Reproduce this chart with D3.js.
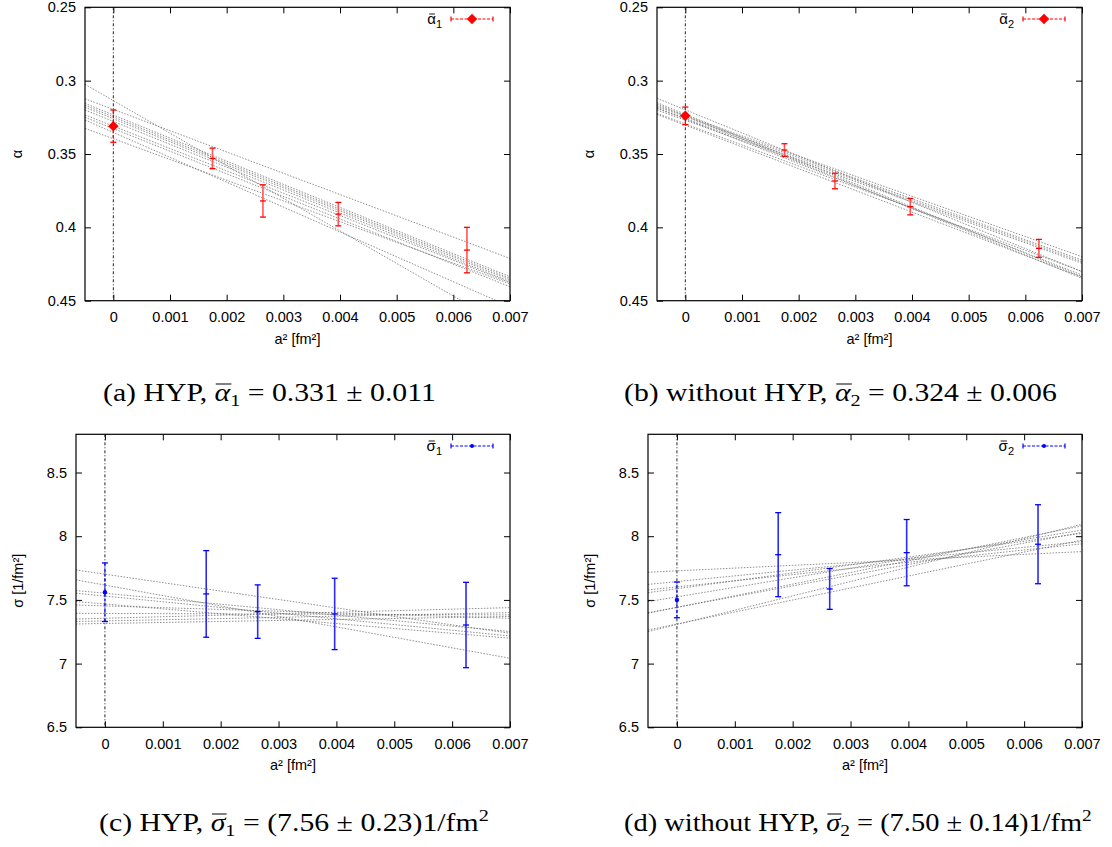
<!DOCTYPE html>
<html>
<head>
<meta charset="utf-8">
<script src="https://cdn.jsdelivr.net/npm/d3@7"></script>
<style>
  body { margin: 0; background: #fff; }
  svg text { font-family: "Liberation Sans", Arial, sans-serif; }
</style>
</head>
<body>
<svg id="fig" width="1112" height="847"></svg>
<script>
// lattice spacings a^2 [fm^2]
const a2 = [0.00175, 0.00264, 0.00397, 0.00624];
const xTicks = [0, 0.001, 0.002, 0.003, 0.004, 0.005, 0.006, 0.007];
const alphaTicks = [0.25, 0.3, 0.35, 0.4, 0.45];
const sigmaTicks = [6.5, 7, 7.5, 8, 8.5];

// alpha, HYP
const alphaHyp = [0.353, 0.382, 0.391, 0.4155];
const alphaHypErr = [0.007, 0.011, 0.008, 0.0155];
const alphaHypBar = [0.331, 0.011];
const alphaHypFitC = [0.3136, 0.3196, 0.3234, 0.3247, 0.3260, 0.3310, 0.3327, 0.3353, 0.3396, 0.3278];
const alphaHypFitM = [22.2, 14.51, 15.75, 15.73, 15.69, 15.24, 15.4, 16.96, 14.13, 15.6];

// alpha, without HYP
const alphaRaw = [0.3473, 0.3684, 0.3859, 0.4143];
const alphaRawErr = [0.0043, 0.0053, 0.0056, 0.0061];
const alphaRawBar = [0.324, 0.006];
const alphaRawFitC = [0.3199, 0.3229, 0.3239, 0.3239, 0.3247, 0.3261, 0.3259, 0.3270, 0.3295, 0.3304];
const alphaRawFitM = [15.76, 15.81, 15.84, 13.73, 13.95, 15.2, 13.93, 13.93, 14.36, 14.8];

// sigma, HYP
const sigmaHyp = [7.547, 7.408, 7.390, 7.303];
const sigmaHypErr = [0.34, 0.21, 0.28, 0.335];
const sigmaHypBar = [7.56, 0.23];
const sigmaHypFitC = [7.702, 7.616, 7.552, 7.530, 7.468, 7.453, 7.394, 7.356, 7.335, 7.315];
const sigmaHypFitM = [-66.3, -82, -42.9, -44.7, -38.4, -13.9, -1.7, 11.9, 9.3, 7.9];

// sigma, without HYP
const sigmaRaw = [7.855, 7.586, 7.871, 7.937];
const sigmaRawErr = [0.33, 0.16, 0.26, 0.31];
const sigmaRawBar = [7.50, 0.14];
const sigmaRawFitC = [7.728, 7.644, 7.602, 7.588, 7.524, 7.442, 7.441, 7.311, 7.307];
const sigmaRawFitM = [21.6, 44.8, 48.3, 62.1, 74.9, 84, 91.5, 94.1, 112.4];

const xDomain = [-0.0005, 0.007];

const svg = d3.select("#fig");
const fontFam = "Liberation Sans, Arial, sans-serif";

const panels = [
  { id: "a", left: 85, right: 510, top: 7.3, bottom: 300.7, yDomain: [0.25, 0.45], yRange: "down",
    yTicks: alphaTicks, yFmt: d3.format(".2~f"), vals: alphaHyp, errs: alphaHypErr, bar: alphaHypBar,
    fitC: alphaHypFitC, fitM: alphaHypFitM, color: "#ff0000", zero: "diamond", ylab: "α", leg: ["α", "1"],
    labX: 17 },
  { id: "b", left: 657, right: 1082, top: 7.3, bottom: 300.7, yDomain: [0.25, 0.45], yRange: "down",
    yTicks: alphaTicks, yFmt: d3.format(".2~f"), vals: alphaRaw, errs: alphaRawErr, bar: alphaRawBar,
    fitC: alphaRawFitC, fitM: alphaRawFitM, color: "#ff0000", zero: "diamond", ylab: "α", leg: ["α", "2"],
    labX: 589 },
  { id: "c", left: 76, right: 510, top: 434.3, bottom: 727.3, yDomain: [6.5, 8.8], yRange: "up",
    yTicks: sigmaTicks, yFmt: d3.format(".1~f"), vals: sigmaHyp, errs: sigmaHypErr, bar: sigmaHypBar,
    fitC: sigmaHypFitC, fitM: sigmaHypFitM, color: "#0000ff", zero: "dot", ylab: "σ [1/fm²]", leg: ["σ", "1"],
    labX: 18 },
  { id: "d", left: 648, right: 1082, top: 434.3, bottom: 727.3, yDomain: [6.5, 8.8], yRange: "up",
    yTicks: sigmaTicks, yFmt: d3.format(".1~f"), vals: sigmaRaw, errs: sigmaRawErr, bar: sigmaRawBar,
    fitC: sigmaRawFitC, fitM: sigmaRawFitM, color: "#0000ff", zero: "dot", ylab: "σ [1/fm²]", leg: ["σ", "2"],
    labX: 590 }
];

panels.forEach(p => {
  const x = d3.scaleLinear().domain(xDomain).range([p.left, p.right]);
  const y = d3.scaleLinear().domain(p.yDomain)
    .range(p.yRange === "down" ? [p.top, p.bottom] : [p.bottom, p.top]);
  const g = svg.append("g");

  g.append("clipPath").attr("id", "clip-" + p.id)
    .append("rect")
    .attr("x", p.left).attr("y", p.top)
    .attr("width", p.right - p.left).attr("height", p.bottom - p.top);

  // axes, gnuplot style: ticks pointing inwards on all four sides
  const gx = g.append("g").attr("transform", `translate(0,${p.bottom})`)
    .call(d3.axisBottom(x).tickValues(xTicks).tickFormat(d3.format(".3~f")).tickSize(-6).tickPadding(11));
  const gt = g.append("g").attr("transform", `translate(0,${p.top})`)
    .call(d3.axisTop(x).tickValues(xTicks).tickFormat("").tickSize(-6));
  const gy = g.append("g").attr("transform", `translate(${p.left},0)`)
    .call(d3.axisLeft(y).tickValues(p.yTicks).tickFormat(p.yFmt).tickSize(-6).tickPadding(9));
  const gr = g.append("g").attr("transform", `translate(${p.right},0)`)
    .call(d3.axisRight(y).tickValues(p.yTicks).tickFormat("").tickSize(-6));
  [gx, gt, gy, gr].forEach(a => {
    a.select(".domain").remove();
    a.attr("font-family", fontFam).attr("font-size", 14.5);
    a.selectAll("line").attr("stroke", "#000");
    a.selectAll("text").attr("fill", "#000");
  });

  // fit lines
  const fits = g.append("g").attr("clip-path", `url(#clip-${p.id})`);
  fits.selectAll("line.fit")
    .data(p.fitC.map((c, i) => ({ c: c, m: p.fitM[i] })))
    .join("line")
    .attr("class", "fit")
    .attr("x1", x(xDomain[0])).attr("x2", x(xDomain[1]))
    .attr("y1", d => y(d.c + d.m * xDomain[0]))
    .attr("y2", d => y(d.c + d.m * xDomain[1]))
    .attr("stroke", "#6a6a6a")
    .attr("stroke-opacity", 0.75)
    .attr("stroke-width", 1)
    .attr("stroke-dasharray", "1.5,1.5");

  // a^2 = 0 line
  g.append("line")
    .attr("x1", x(0)).attr("x2", x(0))
    .attr("y1", p.top).attr("y2", p.bottom)
    .attr("stroke", "#222")
    .attr("stroke-width", 1)
    .attr("stroke-dasharray", "3,2,1,2");

  // data with error bars
  const pts = p.vals.map((v, i) => ({ x: a2[i], v: v, e: p.errs[i] }));
  const eb = g.append("g");
  const barCol = p.color === "#ff0000" ? "#ff5555" : "#2b2bff";
  eb.selectAll("line.bar").data(pts).join("line")
    .attr("x1", d => x(d.x)).attr("x2", d => x(d.x))
    .attr("y1", d => y(d.v - d.e)).attr("y2", d => y(d.v + d.e))
    .attr("stroke", barCol).attr("stroke-width", 1.6);
  [d => d.v - d.e, d => d.v + d.e, d => d.v].forEach((f, k) => {
    eb.selectAll("line.cap" + k).data(pts).join("line")
      .attr("x1", d => x(d.x) - 3).attr("x2", d => x(d.x) + 3)
      .attr("y1", d => y(f(d))).attr("y2", d => y(f(d)))
      .attr("stroke", p.color).attr("stroke-width", 1.3);
  });

  // extrapolated value at a^2 = 0
  const z = g.append("g");
  z.append("line")
    .attr("x1", x(0)).attr("x2", x(0))
    .attr("y1", y(p.bar[0] - p.bar[1])).attr("y2", y(p.bar[0] + p.bar[1]))
    .attr("stroke", p.color).attr("stroke-width", 1.3)
    .attr("stroke-dasharray", "3,2");
  [p.bar[0] - p.bar[1], p.bar[0] + p.bar[1]].forEach(v => {
    z.append("line")
      .attr("x1", x(0) - 3).attr("x2", x(0) + 3)
      .attr("y1", y(v)).attr("y2", y(v))
      .attr("stroke", p.color).attr("stroke-width", 1.3);
  });
  if (p.zero === "diamond") {
    z.append("path")
      .attr("d", d3.symbol(d3.symbolDiamond2, 70))
      .attr("transform", `translate(${x(0)},${y(p.bar[0])})`)
      .attr("fill", p.color);
  } else {
    z.append("circle")
      .attr("cx", x(0)).attr("cy", y(p.bar[0])).attr("r", 2.2)
      .attr("fill", p.color);
  }

  // frame
  g.append("rect")
    .attr("x", p.left).attr("y", p.top)
    .attr("width", p.right - p.left).attr("height", p.bottom - p.top)
    .attr("fill", "none").attr("stroke", "#000").attr("stroke-width", 1.2);

  // legend
  const ly = p.top + 11.7;
  const lx1 = p.right - 59, lx2 = p.right - 17;
  const lt = g.append("text")
    .attr("x", p.right - 68).attr("y", ly + 5)
    .attr("text-anchor", "end")
    .attr("font-size", 15);
  const ls = lt.append("tspan").text(p.leg[0]);
  lt.append("tspan").attr("dy", 4).attr("font-size", 11).text(p.leg[1]);
  // small bar over the legend symbol
  const le = lt.node().getExtentOfChar(0);
  g.append("line")
    .attr("x1", le.x + 2).attr("x2", le.x + le.width - 1)
    .attr("y1", ly - 5).attr("y2", ly - 5)
    .attr("stroke", "#000").attr("stroke-width", 0.9);
  g.append("line")
    .attr("x1", lx1).attr("x2", lx2).attr("y1", ly).attr("y2", ly)
    .attr("stroke", p.color).attr("stroke-width", 1.2).attr("stroke-dasharray", "3,1.5");
  [lx1, lx2].forEach(v => {
    g.append("line")
      .attr("x1", v).attr("x2", v).attr("y1", ly - 2.5).attr("y2", ly + 2.5)
      .attr("stroke", p.color).attr("stroke-width", 1.2);
  });
  if (p.zero === "diamond") {
    g.append("path")
      .attr("d", d3.symbol(d3.symbolDiamond2, 70))
      .attr("transform", `translate(${(lx1 + lx2) / 2},${ly})`)
      .attr("fill", p.color);
  } else {
    g.append("circle")
      .attr("cx", (lx1 + lx2) / 2).attr("cy", ly).attr("r", 2)
      .attr("fill", p.color);
  }

  // axis titles
  g.append("text")
    .attr("x", (p.left + p.right) / 2).attr("y", p.bottom + 43)
    .attr("text-anchor", "middle").attr("font-size", 14.5)
    .text("a² [fm²]");
  g.append("text")
    .attr("transform", `translate(${p.labX + 5},${(p.top + p.bottom) / 2}) rotate(-90)`)
    .attr("text-anchor", "middle").attr("font-size", 14.5)
    .text(p.ylab);
});

// sub-figure captions
const captions = [
  { x0: 103, w: 333, y: 401, pre: "(a) HYP, ", sym: "α", sub: "1", post: " = 0.331 ± 0.011", unit: false },
  { x0: 624, w: 433, y: 401, pre: "(b) without HYP, ", sym: "α", sub: "2", post: " = 0.324 ± 0.006", unit: false },
  { x0: 99, w: 390, y: 831, pre: "(c) HYP, ", sym: "σ", sub: "1", post: " = (7.56 ± 0.23)1/fm", unit: true },
  { x0: 624, w: 468, y: 831, pre: "(d) without HYP, ", sym: "σ", sub: "2", post: " = (7.50 ± 0.14)1/fm", unit: true }
];

captions.forEach(c => {
  const g = svg.append("g");
  const t = g.append("text")
    .attr("x", 0).attr("y", 0)
    .style("font-family", "'Liberation Serif', 'DejaVu Serif', serif")
    .attr("font-size", 25)
    .attr("fill", "#000");
  t.append("tspan").text(c.pre);
  t.append("tspan").attr("font-style", "italic").text(c.sym);
  t.append("tspan").attr("dy", 5).attr("font-size", 17).text(c.sub);
  t.append("tspan").attr("dy", -5).text(c.post);
  if (c.unit) t.append("tspan").attr("dy", -10).attr("font-size", 17).text("2");

  // overline on the symbol
  const node = t.node();
  const ext = node.getExtentOfChar(c.pre.length);
  g.append("line")
    .attr("x1", ext.x + 1).attr("x2", ext.x + ext.width + 1)
    .attr("y1", -17).attr("y2", -17)
    .attr("stroke", "#000").attr("stroke-width", 1);

  const bw = node.getBBox().width;
  g.attr("transform", `translate(${c.x0},${c.y}) scale(${c.w / bw},1)`);
});
</script>
</body>
</html>
